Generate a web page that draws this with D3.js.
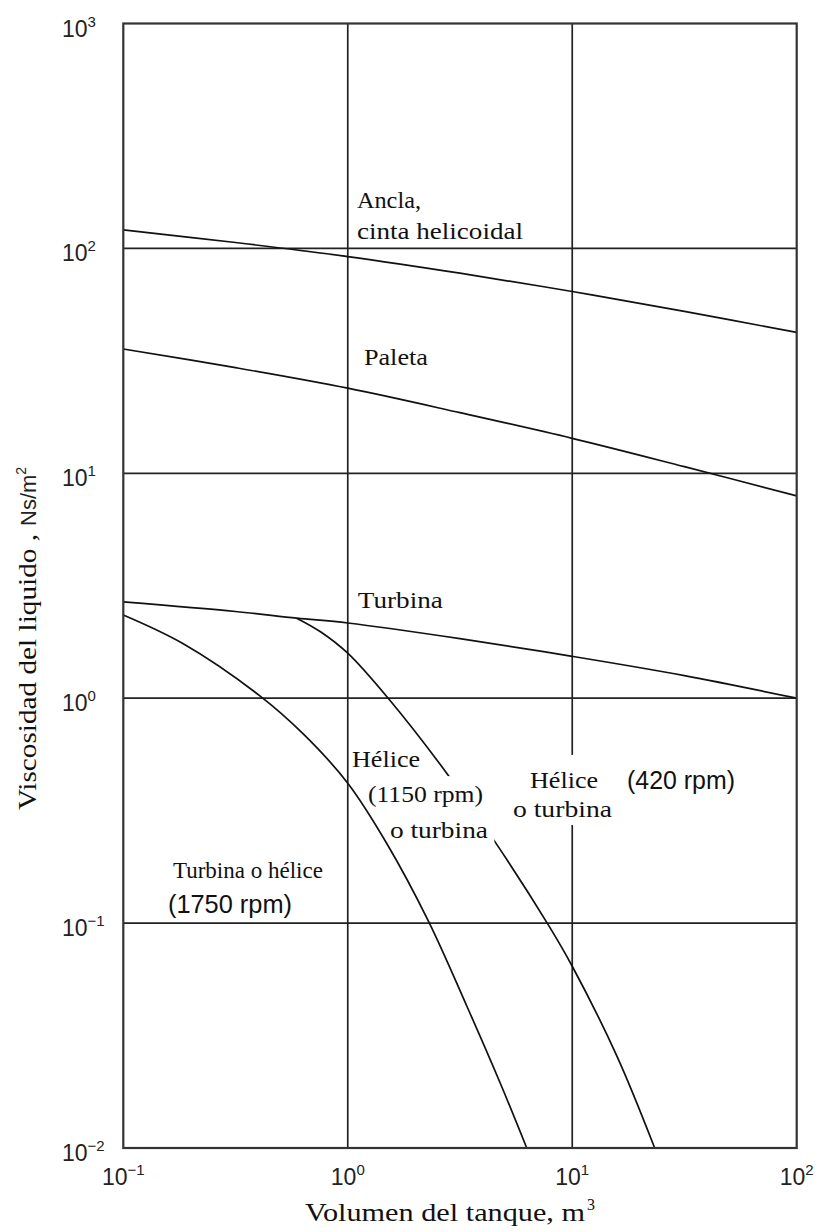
<!DOCTYPE html>
<html><head><meta charset="utf-8">
<script src="https://cdn.jsdelivr.net/npm/d3@7"></script>
<style>body{margin:0;background:#fff}</style>
</head><body>
<svg id="c" width="820" height="1232"></svg>
<script>
// ---- data ----
const xTickValues = [0.1, 1, 10, 100];
const xTickExp = ["−1", "0", "1", "2"];
const yTickValues = [0.01, 0.1, 1, 10, 100, 1000];
const yTickExp = ["−2", "−1", "0", "1", "2", "3"];

const anclaX = [0.1, 0.316, 1, 3.16, 10, 31.6, 100];
const anclaY = [120.8, 106.2, 92.0, 77.6, 64.3, 52.5, 42.3];
const paletaX = [0.1, 0.316, 1, 3.16, 10, 31.6, 100];
const paletaY = [35.7, 29.5, 23.9, 18.6, 14.3, 10.7, 7.94];
const turbinaX = [0.1, 0.316, 0.592, 1, 3.16, 10, 31.6, 100];
const turbinaY = [2.68, 2.43, 2.27, 2.16, 1.84, 1.535, 1.26, 1.0];
const r1750X = [0.1, 0.185, 0.406, 0.63, 1.0, 1.49, 2.29, 3.39, 4.76, 6.27];
const r1750Y = [2.344, 1.746, 1.024, 0.697, 0.419, 0.2266, 0.1018, 0.0428, 0.0196, 0.01];
const r1150X = [0.592, 0.759, 1, 1.514, 2.754, 4.446, 7.80, 10, 15.85, 23.3];
const r1150Y = [2.27, 1.97, 1.585, 0.999, 0.4655, 0.2362, 0.0987, 0.0643, 0.0255, 0.01];

const labelTexts = ["Ancla,", "cinta helicoidal", "Paleta", "Turbina", "Hélice", "(1150 rpm)",
  "o turbina", "Hélice", "o turbina", "(420 rpm)", "Turbina o hélice", "(1750 rpm)"];
// anchor of each label (log10 of x, log10 of y)
const labelLogX = [0.041, 0.041, 0.072, 0.045, 0.019, 0.090, 0.188, 0.812, 0.736, 1.244, -0.779, -0.801];
const labelLogY = [2.180, 2.042, 1.480, 0.401, -0.306, -0.462, -0.622, -0.399, -0.528, -0.404, -0.799, -0.955];

// ---- layout / style ----
const labelSans = [false, false, false, false, false, false, false, false, false, true, false, true];
const labelWidth = [64, 166, 64, 85, 68, 115, 98, 68, 99, 108, 150, 124];
// pad: [top, right, bottom, left]
const knockGroups = [{ idx: [5], pad: [5, 4, 2, 0] }, { idx: [6], pad: [8, 6, 0, 0] }, { idx: [7, 8], pad: [12, 4, 3, 4] }];

const svg = d3.select("#c");
const L = 123.3, R = 796.7, T = 23.5, B = 1148;
const x = d3.scaleLog().domain([0.1, 100]).range([L, R]);
const y = d3.scaleLog().domain([0.01, 1000]).range([B, T]);

// gridlines
svg.append("g").selectAll("line").data([1, 10]).join("line")
  .attr("x1", d => x(d)).attr("x2", d => x(d)).attr("y1", T).attr("y2", B)
  .attr("stroke", "#222").attr("stroke-width", 1.7);
svg.append("g").selectAll("line").data([0.1, 1, 10, 100]).join("line")
  .attr("y1", d => y(d)).attr("y2", d => y(d)).attr("x1", L).attr("x2", R)
  .attr("stroke", "#222").attr("stroke-width", 1.7);

// curves
const line = d3.line().x(d => x(d[0])).y(d => y(d[1])).curve(d3.curveCatmullRom.alpha(0.5));
const series = [[anclaX, anclaY], [paletaX, paletaY], [turbinaX, turbinaY], [r1750X, r1750Y], [r1150X, r1150Y]];
svg.append("g").selectAll("path").data(series).join("path")
  .attr("d", s => line(s[0].map((v, i) => [v, s[1][i]])))
  .attr("fill", "none").attr("stroke", "#111").attr("stroke-width", 1.7);

// knockouts + labels
const knockG = svg.append("g");
const labG = svg.append("g");
const labs = labG.selectAll("text").data(labelTexts).join("text")
  .attr("x", (d, i) => x(Math.pow(10, labelLogX[i])))
  .attr("y", (d, i) => y(Math.pow(10, labelLogY[i])))
  .attr("font-family", (d, i) => labelSans[i] ? "Liberation Sans, Arial, sans-serif" : "Liberation Serif, Times New Roman, serif")
  .attr("font-size", (d, i) => labelSans[i] ? 25 : 24)
  .attr("fill", "#111")
  .attr("textLength", (d, i) => labelWidth[i])
  .attr("lengthAdjust", "spacingAndGlyphs")
  .text(d => d);
const nodes = labs.nodes();
knockGroups.forEach(g => {
  let x0 = Infinity, y0 = Infinity, x1 = -Infinity, y1 = -Infinity;
  g.idx.forEach(i => {
    const b = nodes[i].getBBox();
    x0 = Math.min(x0, b.x); y0 = Math.min(y0, b.y);
    x1 = Math.max(x1, b.x + b.width); y1 = Math.max(y1, b.y + b.height);
  });
  knockG.append("rect").attr("x", x0 - g.pad[3]).attr("y", y0 - g.pad[0])
    .attr("width", x1 - x0 + g.pad[1] + g.pad[3]).attr("height", y1 - y0 + g.pad[0] + g.pad[2])
    .attr("fill", "#fff");
});

// frame
svg.append("rect").attr("x", L).attr("y", T).attr("width", R - L).attr("height", B - T)
  .attr("fill", "none").attr("stroke", "#333").attr("stroke-width", 2.2);

// tick labels
const sans = "Liberation Sans, Arial, sans-serif";
const yt = svg.append("g").selectAll("text").data(yTickValues).join("text")
  .attr("x", 62).attr("y", d => y(d) + 13)
  .attr("font-family", sans).attr("font-size", 23).attr("fill", "#222");
yt.append("tspan").text("10");
yt.append("tspan").attr("dy", -10).attr("font-size", 15).text((d, i) => yTickExp[i]);

const xt = svg.append("g").selectAll("text").data(xTickValues).join("text")
  .attr("x", d => x(d)).attr("y", B + 37).attr("text-anchor", "middle")
  .attr("font-family", sans).attr("font-size", 23).attr("fill", "#222");
xt.append("tspan").text("10");
xt.append("tspan").attr("dy", -10).attr("font-size", 15).text((d, i) => xTickExp[i]);

// axis titles
const serif = "Liberation Serif, Times New Roman, serif";
const xtG = svg.append("g");
xtG.append("text").attr("x", 305).attr("y", 1221).attr("font-family", serif).attr("font-size", 26)
  .attr("fill", "#111").attr("textLength", 280).attr("lengthAdjust", "spacingAndGlyphs")
  .text("Volumen del tanque, m");
xtG.append("text").attr("x", 587).attr("y", 1210).attr("font-family", serif).attr("font-size", 16)
  .attr("fill", "#111").text("3");

const ytG = svg.append("g").attr("transform", "translate(36,810) rotate(-90)");
ytG.append("text").attr("x", 0).attr("y", 0).attr("font-family", serif).attr("font-size", 26)
  .attr("fill", "#111").attr("textLength", 276).attr("lengthAdjust", "spacingAndGlyphs")
  .text("Viscosidad del liquido ,");
const ns = ytG.append("text").attr("x", 284).attr("y", 0).attr("font-family", sans).attr("font-size", 22)
  .attr("fill", "#222");
ns.append("tspan").text("Ns/m");
ns.append("tspan").attr("dy", -10).attr("font-size", 14).text("2");
</script>
</body></html>
